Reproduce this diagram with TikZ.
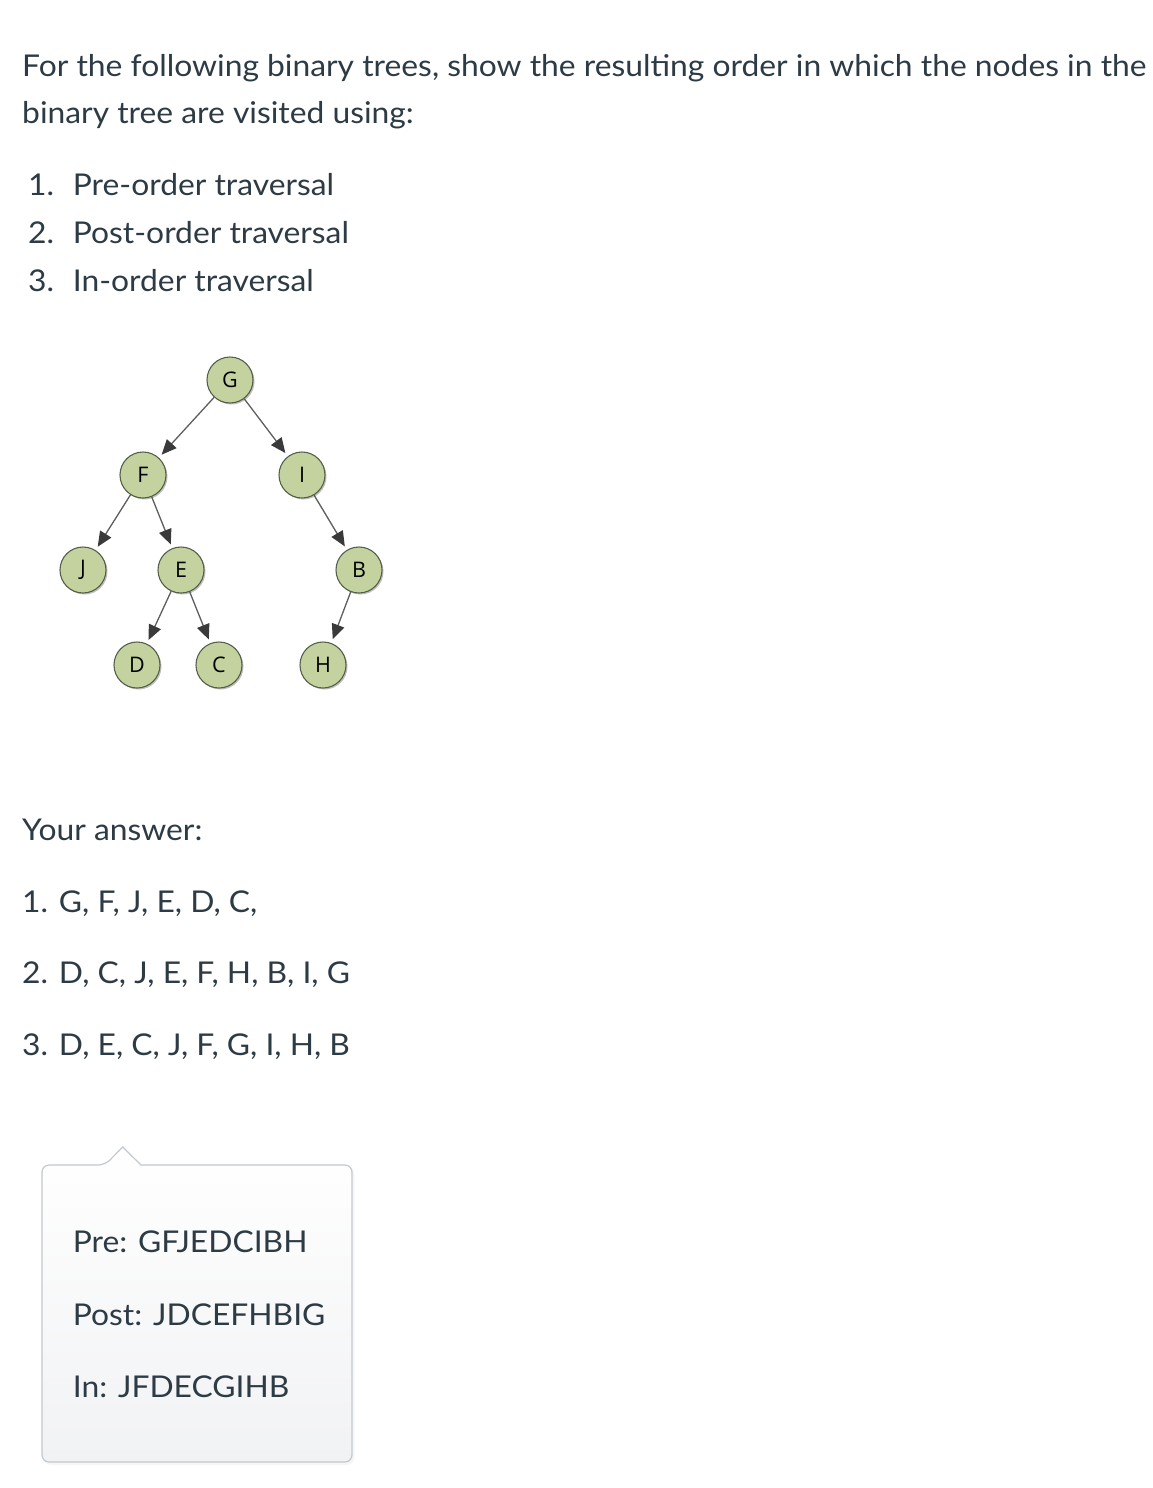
\documentclass[tikz,border=0pt]{standalone}
\usepackage{fontspec}
\setmainfont[FakeStretch=1.06]{Lato}
\newfontfamily\treefont{Open Sans}
\usetikzlibrary{arrows.meta,shadows}
\definecolor{txt}{HTML}{2D3B45}
\definecolor{nodefill}{HTML}{C4D29F}
\definecolor{nodeline}{HTML}{55604A}
\definecolor{edgeline}{HTML}{5E5E5E}
\definecolor{tipfill}{HTML}{3A3A3A}
\definecolor{boxline}{HTML}{C3C9CE}
\definecolor{boxbottom}{HTML}{F1F2F4}
\tikzset{
  line/.style={anchor=base west, inner sep=0pt, text=txt, font=\fontsize{30}{36}\selectfont},
  tnode/.style={circle, minimum size=46pt, inner sep=0pt, fill=nodefill, draw=nodeline, line width=1.1pt,
    font=\treefont\fontsize{21.5}{24}\selectfont, text=black,
    drop shadow={shadow xshift=1.5pt, shadow yshift=-1.5pt, opacity=0.25, fill=black}},
  edge/.style={draw=edgeline, line width=1.3pt, shorten >=4pt,
    -{Triangle[length=15pt,width=13pt,fill=tipfill,color=tipfill]}},
}
\begin{document}
\begin{tikzpicture}[x=1pt,y=-1pt]
\useasboundingbox[fill=white] (0,0) rectangle (1152,1488);

% question text
\node[line] (q1) at (22,76.2) {For the following binary trees, show the resulting order in which the nodes in the};
\node[line] (q2) at (22,123) {binary tree are visited using:};
\node[line] (n1) at (28,195.7) {1.};
\node[line] (i1) at (72.7,195.7) {Pre-order traversal};
\node[line] (n2) at (28,243.3) {2.};
\node[line] (i2) at (72.7,243.3) {Post-order traversal};
\node[line] (n3) at (28,291) {3.};
\node[line] (i3) at (72.7,291) {In-order traversal};

% tree
\node[tnode] (G) at (230,380) {G};
\node[tnode] (F) at (143,475) {F};
\node[tnode] (I) at (302,475) {I};
\node[tnode] (J) at (83,570) {J};
\node[tnode] (E) at (181,570) {E};
\node[tnode] (B) at (359,570) {B};
\node[tnode] (D) at (137,665) {D};
\node[tnode] (C) at (219,665) {C};
\node[tnode] (H) at (323,665) {H};
\draw[edge] (G) -- (F);
\draw[edge] (G) -- (I);
\draw[edge] (F) -- (J);
\draw[edge] (F) -- (E);
\draw[edge] (I) -- (B);
\draw[edge] (E) -- (D);
\draw[edge] (E) -- (C);
\draw[edge] (B) -- (H);

% answer
\node[line] (ya) at (22,840) {Your answer:};
\node[line] (a1) at (22,912.3) {1. G, F, J, E, D, C,};
\node[line] (a2) at (22,983.3) {2. D, C, J, E, F, H, B, I, G};
\node[line] (a3) at (22,1055) {3. D, E, C, J, F, G, I, H, B};

% feedback box
\path[fill=black, opacity=0.035, rounded corners=8pt] (43,1167) rectangle (354.5,1465);
\draw[draw=boxline, line width=1.2pt, top color=white, bottom color=boxbottom]
  (122.7,1147) -- (141,1165) [rounded corners=7pt] -- (352,1165) -- (352,1462) -- (42,1462) -- (42,1165) -- (105,1165) [sharp corners] -- cycle;
\node[line] (b1) at (72.7,1252.8) {Pre: GFJEDCIBH};
\node[line] (b2) at (72.7,1325) {Post: JDCEFHBIG};
\node[line] (b3) at (72.7,1397.7) {In: JFDECGIHB};
\end{tikzpicture}
\end{document}
